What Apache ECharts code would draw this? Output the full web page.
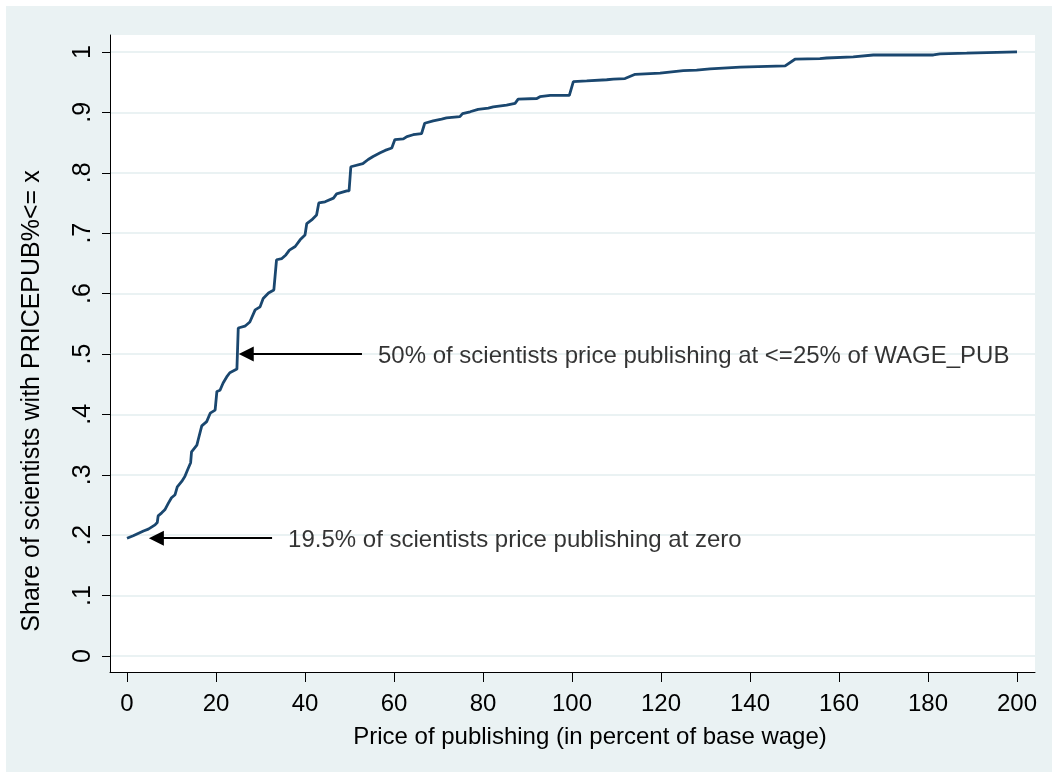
<!DOCTYPE html>
<html>
<head>
<meta charset="utf-8">
<script src="https://cdn.jsdelivr.net/npm/echarts@6/dist/echarts.min.js"></script>
<style>
html,body{margin:0;padding:0;background:#ffffff;}
#c{position:absolute;left:6px;top:6px;width:1046px;height:766px;}
</style>
</head>
<body>
<div id="c"></div>
<script>
const priceX = [0, 1.4, 3.7, 4.8, 6.3, 6.8, 7.0, 7.8, 8.5, 9.3,
  10.0, 10.8, 11.3, 12.3, 13.0, 13.6, 14.3, 14.5, 15.7, 16.0,
  16.8, 17.9, 18.7, 19.8, 20.2, 20.9, 21.6, 22.4, 23.1, 24.7,
  25.0, 25.0, 26.5, 27.6, 28.8, 29.9, 30.6, 31.8, 33.0, 33.6,
  34.8, 35.7, 36.5, 37.8, 38.9, 40.0, 40.4, 41.5, 42.6, 43.1,
  44.5, 46.4, 47.1, 49.4, 49.9, 50.3, 53.0, 54.2, 55.3, 56.9,
  58.0, 59.5, 60.2, 62.1, 62.9, 64.3, 66.2, 66.9, 68.8, 70.7,
  71.8, 74.8, 75.4, 77.1, 78.9, 81.2, 82.3, 85.3, 87.2, 87.9,
  92.1, 92.8, 95.1, 99.4, 100.3, 103.3, 107.8, 109.3, 111.9, 114.2,
  119.8, 125.0, 128.0, 131.0, 137.8, 147.9, 150.1, 155.7, 157.2, 163.2,
  167.7, 181.2, 182.7, 188.7, 200];
const shareY = [0.195, 0.199, 0.207, 0.210, 0.217, 0.221, 0.232, 0.237, 0.242, 0.253,
  0.262, 0.267, 0.280, 0.289, 0.297, 0.308, 0.320, 0.338, 0.349, 0.358,
  0.381, 0.388, 0.402, 0.407, 0.438, 0.440, 0.452, 0.462, 0.469, 0.475,
  0.475, 0.543, 0.546, 0.553, 0.573, 0.578, 0.592, 0.601, 0.606, 0.656,
  0.658, 0.664, 0.672, 0.678, 0.689, 0.697, 0.716, 0.722, 0.730, 0.750,
  0.752, 0.758, 0.765, 0.770, 0.770, 0.810, 0.815, 0.822, 0.827, 0.833,
  0.837, 0.841, 0.855, 0.856, 0.860, 0.863, 0.865, 0.882, 0.886, 0.889,
  0.891, 0.893, 0.898, 0.901, 0.905, 0.907, 0.909, 0.912, 0.915, 0.922,
  0.923, 0.926, 0.928, 0.928, 0.951, 0.952, 0.954, 0.955, 0.956, 0.963,
  0.965, 0.969, 0.970, 0.972, 0.975, 0.977, 0.988, 0.989, 0.990, 0.992,
  0.995, 0.995, 0.997, 0.998, 1.0];

const xTickValues = [0, 20, 40, 60, 80, 100, 120, 140, 160, 180, 200];
const yTickValues = [0, 0.1, 0.2, 0.3, 0.4, 0.5, 0.6, 0.7, 0.8, 0.9, 1];
const yTickLabels = ['0', '.1', '.2', '.3', '.4', '.5', '.6', '.7', '.8', '.9', '1'];

const xTitle = 'Price of publishing (in percent of base wage)';
const yTitle = 'Share of scientists with PRICEPUB%<= x';

// Annotations (text + arrow)
const noteText = ['50% of scientists price publishing at <=25% of WAGE_PUB',
                  '19.5% of scientists price publishing at zero'];
const noteX = [56.4, 36.2];
const noteY = [0.5, 0.195];
const arrowFromX = [52.8, 32.6];
const arrowToX = [26.8, 6.6];
const arrowY = [0.5, 0.195];

const FONT = 'Liberation Sans, Arial, sans-serif';
const chart = echarts.init(document.getElementById('c'), null, {renderer: 'canvas'});

const lineData = priceX.map((x, i) => [x, shareY[i]]);
const noteData = noteText.map((t, i) => ({name: t, value: [noteX[i], noteY[i]]}));
const arrowData = arrowFromX.map((x, i) => [
  {coord: [x, arrowY[i]]},
  {coord: [arrowToX[i], arrowY[i]]}
]);

chart.setOption({
  animation: false,
  backgroundColor: '#eaf2f3',
  grid: {
    left: 104, right: 17, top: 29, bottom: 100,
    show: true, backgroundColor: '#ffffff', borderWidth: 0
  },
  xAxis: {
    type: 'value',
    min: -3.82, max: 204.04,
    axisLine: {show: true, onZero: false, lineStyle: {color: '#000', width: 1}},
    axisTick: {show: true, customValues: xTickValues, length: 10, lineStyle: {color: '#000', width: 1}},
    axisLabel: {customValues: xTickValues, fontSize: 24, color: '#000', margin: 20, fontFamily: FONT},
    splitLine: {show: false},
    name: xTitle,
    nameLocation: 'middle',
    nameGap: 53,
    nameTextStyle: {fontSize: 24, color: '#000', fontFamily: FONT, padding: [0, 0, 0, 35]}
  },
  yAxis: {
    type: 'value',
    min: -0.0265, max: 1.0281,
    axisLine: {show: true, onZero: false, lineStyle: {color: '#000', width: 1}},
    axisTick: {show: true, customValues: yTickValues, length: 8, lineStyle: {color: '#000', width: 1}},
    axisLabel: {
      customValues: yTickValues, rotate: 90, fontSize: 25, color: '#000', margin: 14, fontFamily: FONT,
      formatter: v => yTickLabels[Math.round(v * 10)]
    },
    splitLine: {show: true, lineStyle: {color: '#eaf2f3', width: 2}},
    name: yTitle,
    nameLocation: 'middle',
    nameRotate: 90,
    nameGap: 65,
    nameTextStyle: {fontSize: 25, color: '#000', fontFamily: FONT, padding: [0, 95, 0, 0]}
  },
  series: [
    {
      type: 'line',
      data: lineData,
      showSymbol: false,
      symbol: 'none',
      lineStyle: {color: '#1a476f', width: 2.8},
      z: 3
    },
    {
      type: 'scatter',
      data: noteData,
      symbolSize: 0,
      silent: true,
      label: {
        show: true, position: 'right', distance: 0, offset: [0, 2],
        formatter: '{b}', fontSize: 24, color: '#000', fontFamily: FONT
      },
      markLine: {
        silent: true,
        symbol: ['none', 'triangle'],
        symbolSize: 15,
        label: {show: false},
        lineStyle: {color: '#000', width: 2, type: 'solid'},
        emphasis: {disabled: true},
        data: arrowData
      },
      z: 4
    }
  ]
});
</script>
</body>
</html>
